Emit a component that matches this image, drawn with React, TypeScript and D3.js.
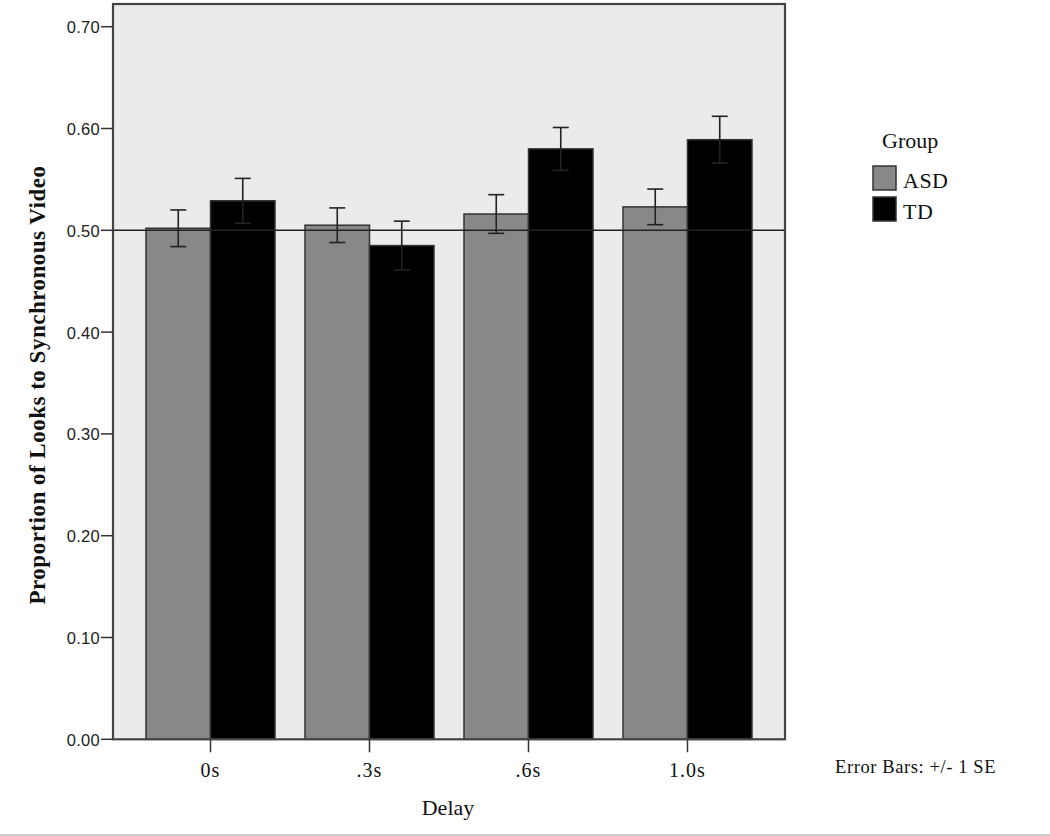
import React from "react";
import * as d3 from "d3";

const categories = ["0s", ".3s", ".6s", "1.0s"];
const groups = ["ASD", "TD"];
const asdMeans = [0.502, 0.505, 0.516, 0.523];
const asdSE = [0.018, 0.017, 0.019, 0.0175];
const tdMeans = [0.529, 0.485, 0.580, 0.589];
const tdSE = [0.022, 0.024, 0.021, 0.023];
const yTicks = [0, 0.1, 0.2, 0.3, 0.4, 0.5, 0.6, 0.7];
const refValue = 0.5;
const groupColors = ["#888888", "#000000"];

const W = 1050;
const H = 836;
const plot = { left: 113, right: 785, top: 4, bottom: 739.3 };

export default function App() {
  const x = d3
    .scaleBand<string>()
    .domain(categories)
    .range([plot.left, plot.right])
    .paddingInner(0.1887)
    .paddingOuter(0.2076);
  const xs = d3.scaleBand<string>().domain(groups).range([0, x.bandwidth()]);
  const y = d3
    .scaleLinear()
    .domain([0, (plot.bottom - plot.top) / 1018])
    .range([plot.bottom, plot.top]);

  const series = [
    { name: "ASD", means: asdMeans, se: asdSE, color: groupColors[0] },
    { name: "TD", means: tdMeans, se: tdSE, color: groupColors[1] },
  ];

  const serif = "'Liberation Serif', 'Times New Roman', serif";
  const sans = "'Liberation Sans', Arial, sans-serif";

  return (
    <svg
      width={W}
      height={H}
      style={{ position: "absolute", left: 0, top: 0, background: "#fff" }}
    >
      <rect
        x={plot.left}
        y={plot.top}
        width={plot.right - plot.left}
        height={plot.bottom - plot.top}
        fill="#ebebeb"
      />
      {series.map((s) =>
        categories.map((c, i) => {
          const bx = (x(c) ?? 0) + (xs(s.name) ?? 0);
          const by = y(s.means[i]);
          return (
            <rect
              key={s.name + c}
              x={bx}
              y={by}
              width={xs.bandwidth()}
              height={plot.bottom - by}
              fill={s.color}
              stroke="#333"
              strokeWidth={1.5}
            />
          );
        })
      )}
      <line
        x1={plot.left}
        x2={plot.right}
        y1={y(refValue)}
        y2={y(refValue)}
        stroke="#222"
        strokeWidth={1.6}
      />
      {series.map((s) =>
        categories.map((c, i) => {
          const cx = (x(c) ?? 0) + (xs(s.name) ?? 0) + xs.bandwidth() / 2;
          const hi = y(s.means[i] + s.se[i]);
          const lo = y(s.means[i] - s.se[i]);
          return (
            <g key={"e" + s.name + c} stroke="#222" strokeWidth={1.6}>
              <line x1={cx} x2={cx} y1={hi} y2={lo} />
              <line x1={cx - 8} x2={cx + 8} y1={hi} y2={hi} />
              <line x1={cx - 8} x2={cx + 8} y1={lo} y2={lo} />
            </g>
          );
        })
      )}
      <rect
        x={plot.left}
        y={plot.top}
        width={plot.right - plot.left}
        height={plot.bottom - plot.top}
        fill="none"
        stroke="#444"
        strokeWidth={2.2}
      />
      {yTicks.map((t) => (
        <g key={"yt" + t}>
          <line
            x1={plot.left - 12}
            x2={plot.left}
            y1={y(t)}
            y2={y(t)}
            stroke="#333"
            strokeWidth={1.5}
          />
          <text
            x={plot.left - 13}
            y={y(t) + 6.5}
            textAnchor="end"
            fontFamily={sans}
            fontSize={16.5}
            letterSpacing={0.3}
            fill="#222"
          >
            {t.toFixed(2)}
          </text>
        </g>
      ))}
      {categories.map((c) => {
        const cx = (x(c) ?? 0) + x.bandwidth() / 2;
        return (
          <g key={"xt" + c}>
            <line
              x1={cx}
              x2={cx}
              y1={plot.bottom}
              y2={plot.bottom + 13}
              stroke="#333"
              strokeWidth={1.5}
            />
            <text
              x={cx}
              y={777}
              textAnchor="middle"
              fontFamily={serif}
              fontSize={20}
              letterSpacing={1}
              fill="#111"
            >
              {c}
            </text>
          </g>
        );
      })}
      <text
        x={448}
        y={815}
        textAnchor="middle"
        fontFamily={serif}
        fontSize={22}
        fill="#111"
      >
        Delay
      </text>
      <text
        transform={`translate(45, 385) rotate(-90)`}
        textAnchor="middle"
        fontFamily={serif}
        fontWeight="bold"
        fontSize={23}
        letterSpacing={0.5}
        fill="#111"
      >
        Proportion of Looks to Synchronous Video
      </text>
      <text x={882} y={148} fontFamily={serif} fontSize={22} fill="#111">
        Group
      </text>
      {series.map((s, i) => (
        <g key={"lg" + s.name}>
          <rect
            x={873}
            y={166 + i * 31}
            width={23}
            height={24}
            fill={s.color}
            stroke="#333"
            strokeWidth={1.5}
          />
          <text
            x={903}
            y={188 + i * 31}
            fontFamily={serif}
            fontSize={22}
            letterSpacing={0.5}
            fill="#111"
          >
            {s.name}
          </text>
        </g>
      ))}
      <text
        x={835}
        y={773}
        fontFamily={serif}
        fontSize={18.5}
        letterSpacing={0.6}
        fill="#111"
      >
        Error Bars: +/- 1 SE
      </text>
      <line x1={0} x2={W} y1={835} y2={835} stroke="#ccc" strokeWidth={2} />
    </svg>
  );
}
